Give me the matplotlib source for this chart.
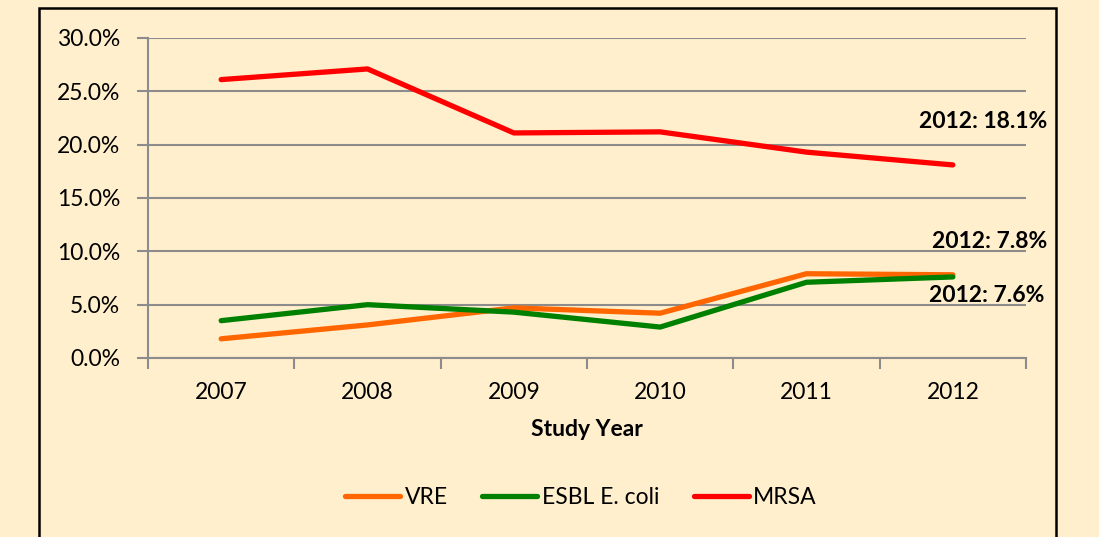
import matplotlib
matplotlib.use("Agg")
import matplotlib.pyplot as plt
from matplotlib.patches import Rectangle
from matplotlib.ticker import FuncFormatter, FixedLocator

years = ["2007", "2008", "2009", "2010", "2011", "2012"]
vre = [1.8, 3.1, 4.7, 4.2, 7.9, 7.8]
esbl = [3.5, 5.0, 4.3, 2.9, 7.1, 7.6]
mrsa = [26.1, 27.1, 21.1, 21.2, 19.3, 18.1]
labels = ["2012: 18.1%", "2012: 7.8%", "2012: 7.6%"]

plt.rcParams['font.family'] = ['Lato', 'DejaVu Sans']
FS = 16.5

bg = "#FFEFCC"
fig = plt.figure(figsize=(10.99, 5.37), dpi=100, facecolor=bg)
fig.patches.append(Rectangle((39/1099, -0.05), (1056-39)/1099, 1.05 - 8/537,
                             transform=fig.transFigure, fill=False,
                             edgecolor="black", linewidth=1.8, zorder=10))

ax = fig.add_axes([148/1099, 1-358/537, (1026-148)/1099, (358-38)/537])
ax.set_facecolor(bg)
x = list(range(len(years)))
ax.plot(x, vre, color="#FF6600", lw=3.8, solid_capstyle="round", label="VRE")
ax.plot(x, esbl, color="#008000", lw=3.8, solid_capstyle="round", label="ESBL E. coli")
ax.plot(x, mrsa, color="#FF0000", lw=3.8, solid_capstyle="round", label="MRSA")

ax.set_xlim(-0.5, len(years) - 0.5)
ax.set_ylim(0, 30)
ax.set_yticks([0, 5, 10, 15, 20, 25, 30])
ax.yaxis.set_major_formatter(FuncFormatter(lambda v, p: f"{v:.1f}%"))
ax.set_xticks(x)
ax.set_xticklabels(years)
ax.xaxis.set_minor_locator(FixedLocator([i - 0.5 for i in range(len(years) + 1)]))
ax.tick_params(axis="x", which="major", length=0, pad=17, labelsize=FS)
ax.tick_params(axis="x", which="minor", length=8, color="#8C8C8C", width=1.5)
ax.tick_params(axis="y", length=8, color="#8C8C8C", width=1.5, labelsize=FS, pad=12)
ax.grid(axis="y", color="#8C8C8C", lw=1.5)
ax.set_axisbelow(True)
for s in ["top", "right"]:
    ax.spines[s].set_visible(False)
for s in ["left", "bottom"]:
    ax.spines[s].set_color("#8C8C8C")
    ax.spines[s].set_linewidth(1.5)

ax.set_xlabel("Study Year", fontsize=FS, fontweight="bold", labelpad=12)

ax.annotate(labels[0], xy=(1047/1099, 1-122/537), xycoords="figure fraction",
            ha="right", va="center", fontsize=FS, fontweight="bold")
ax.annotate(labels[1], xy=(1047/1099, 1-241/537), xycoords="figure fraction",
            ha="right", va="center", fontsize=FS, fontweight="bold")
ax.annotate(labels[2], xy=(1044/1099, 1-295/537), xycoords="figure fraction",
            ha="right", va="center", fontsize=FS, fontweight="bold")

fig.legend(loc="center", bbox_to_anchor=(581/1099, 1-498/537), ncol=3,
           frameon=False, fontsize=FS, handlelength=2.4, columnspacing=1.5,
           handletextpad=0.2)

fig.savefig("out.png", dpi=100, facecolor=bg)
